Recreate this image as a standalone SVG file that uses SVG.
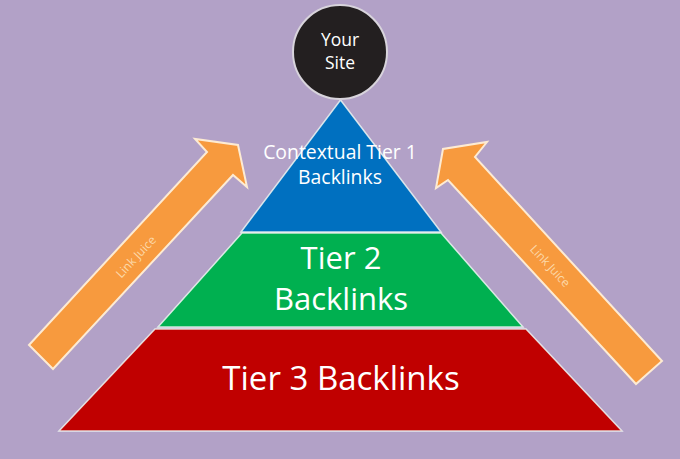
<svg xmlns="http://www.w3.org/2000/svg" width="680" height="459" viewBox="0 0 680 459">
  <style>
    .arrow { fill: #F79A3E; stroke: #FDEBD3; stroke-width: 2; stroke-linejoin: miter; }
    .tier { stroke: #EEF6F2; stroke-opacity: 0.85; stroke-width: 1.5; stroke-linejoin: miter; }
    .lbl { font-family: "Open Sans", "Noto Sans", sans-serif; fill: #FFFFFF; text-anchor: middle; }
    .juice { font-family: "Open Sans", "Noto Sans", sans-serif; fill: #FCD8A8; text-anchor: middle; font-size: 12px; }
  </style>
  <rect x="0" y="0" width="680" height="459" fill="#B2A1C7"/>

  <g id="connectors">
    <g id="arrow-left">
      <polygon class="arrow" points="29,345 207,152 195,139 238,145 247,187 233,175 53,369"/>
      <text class="juice" transform="translate(136,257) rotate(-47)" y="4">Link Juice</text>
    </g>
    <g id="arrow-right">
      <polygon class="arrow" points="662,361 475,157 487,142 443,149 436,188 448,180 636,384"/>
      <text class="juice" transform="translate(550,266) rotate(47)" y="4">Link Juice</text>
    </g>
  </g>

  <g id="tier3">
    <polygon class="tier" fill="#C00000" points="155,329 526,329 622,431 59,431"/>
    <text class="lbl" x="341" y="390" font-size="33">Tier 3 Backlinks</text>
  </g>

  <g id="tier2">
    <polygon class="tier" fill="#00B050" points="242,233 441,233 523,327 158,327"/>
    <text class="lbl" x="341" y="269" font-size="31">Tier 2</text>
    <text class="lbl" x="341" y="310" font-size="31">Backlinks</text>
  </g>

  <g id="tier1">
    <polygon class="tier" fill="#0070C0" points="340.5,100 441,232 241,232"/>
    <text class="lbl" x="340" y="159" font-size="19.4">Contextual Tier 1</text>
    <text class="lbl" x="340" y="184" font-size="19.4">Backlinks</text>
  </g>

  <g id="your-site">
    <circle cx="340" cy="52" r="47" fill="#231F20" stroke="#D8D4DC" stroke-width="2"/>
    <text class="lbl" x="340" y="45.5" font-size="17.5">Your</text>
    <text class="lbl" x="340" y="68.5" font-size="17.5">Site</text>
  </g>
</svg>
